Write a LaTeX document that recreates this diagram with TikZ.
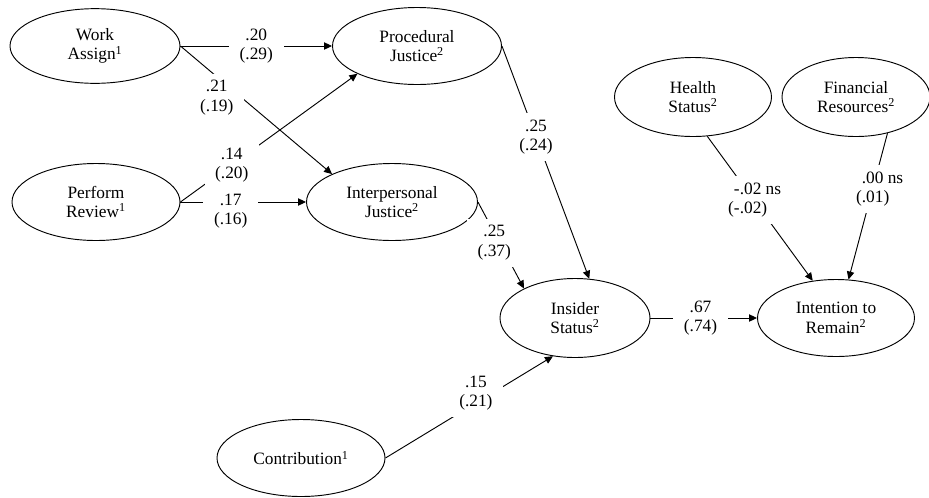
\documentclass[tikz,border=0pt]{standalone}
\usepackage{fontspec}
\setmainfont{Liberation Serif}
\usetikzlibrary{shapes.geometric,arrows.meta}

\begin{document}
\begin{tikzpicture}[x=0.75pt,y=-0.75pt,
    every node/.style={font=\rmfamily\fontsize{13}{14.5}\selectfont,align=center},
    latent/.style 2 args={ellipse,draw,line width=0.7pt,inner sep=0pt,minimum width=#1,minimum height=#2},
    lbl/.style={fill=white,inner xsep=8pt,inner ysep=5pt},
    >={Triangle[length=6pt,width=5.5pt]}]
		\useasboundingbox (0,0) rectangle (929,497);
		\node[latent={127.5pt}{56pt}] (work) at (95,46) {Work\\Assign\textsuperscript{1}};
		\node[latent={126pt}{57.75pt}] (perf) at (96,202) {Perform\\Review\textsuperscript{1}};
		\node[latent={126.75pt}{57.75pt}] (proc) at (417,46) {Procedural\\Justice\textsuperscript{2}};
		\node[latent={128.25pt}{57.75pt}] (inter) at (392,202) {Interpersonal\\Justice\textsuperscript{2}};
		\node[latent={117.75pt}{59.25pt}] (health) at (693,97) {Health\\Status\textsuperscript{2}};
		\node[latent={111pt}{59.25pt}] (fin) at (856,97) {Financial\\Resources\textsuperscript{2}};
		\node[latent={112.5pt}{59.25pt}] (ins) at (575,318) {Insider\\Status\textsuperscript{2}};
		\node[latent={117.75pt}{57.75pt}] (intent) at (836,318) {Intention to\\Remain\textsuperscript{2}};
		\node[latent={126pt}{57.75pt}] (contrib) at (301,458) {Contribution\textsuperscript{1}};
		\path[->,line width=0.7pt]
		(work.east) edge node[lbl] {.20\\(.29)} (proc.west)
		edge node[lbl,pos=.31,xshift=-8pt,yshift=-9pt] {.21\\(.19)} (inter.155)
		(perf.east) edge node[lbl,pos=.29] {.14\\(.20)} (proc.205)
		edge node[lbl,pos=.4,yshift=-7pt] {.17\\(.16)} (inter.west)
		(proc.east) edge node[lbl,pos=.39] {.25\\(.24)} (ins.70)
		(inter.east) edge node[lbl,pos=.47,xshift=-4pt] {.25\\(.37)} (ins.150)
		(contrib.east) edge node[lbl,pos=.54,yshift=7.5pt] {.15\\(.21)} (ins.240)
		(ins.east) edge node[lbl,pos=.47] {.67\\(.74)} (intent.west)
		(health.290) edge node[lbl,pos=.44,xshift=-4.5pt] {-.02\rlap{\ ns}\\(-.02)} (intent.122)
		(fin.311) edge node[lbl,pos=.38] {.00\rlap{\ ns}\\(.01)} (intent.72);
\end{tikzpicture}
\end{document}
